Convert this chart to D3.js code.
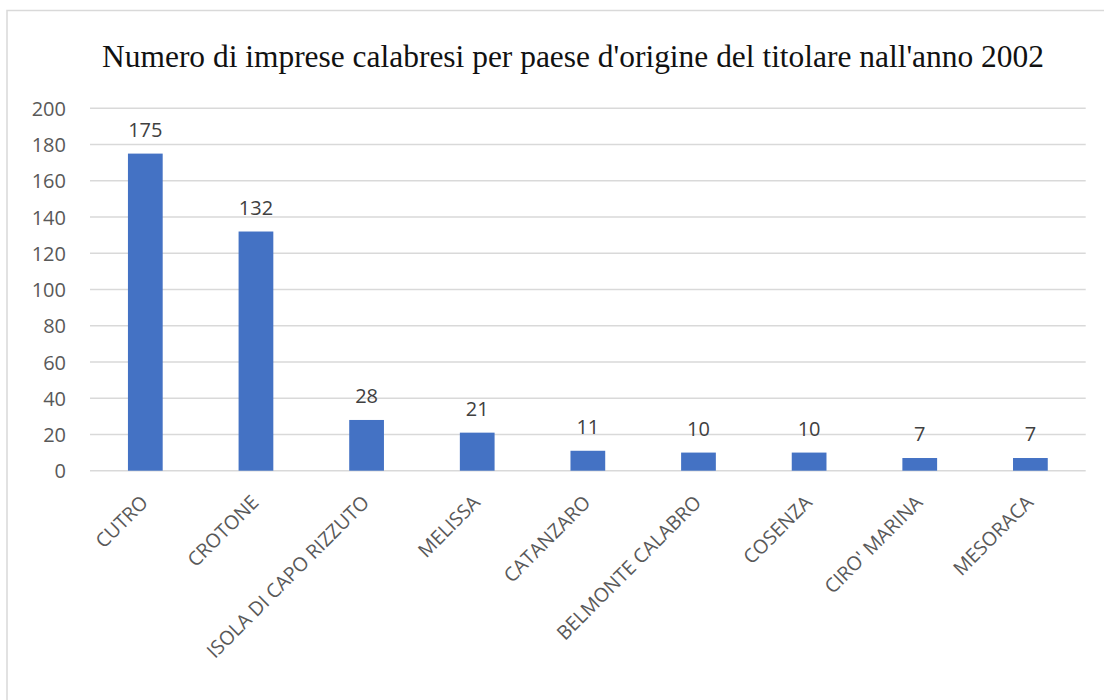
<!DOCTYPE html>
<html>
<head>
<meta charset="utf-8">
<script src="https://cdn.jsdelivr.net/npm/d3@7"></script>
<style>
  body { margin: 0; background: #fff; }
  svg text { font-family: "Open Sans", sans-serif; }
</style>
</head>
<body>
<div id="chart"></div>
<script>
// data
const comuni = ['CUTRO', 'CROTONE', 'ISOLA DI CAPO RIZZUTO', 'MELISSA', 'CATANZARO',
    'BELMONTE CALABRO', 'COSENZA', "CIRO' MARINA", 'MESORACA']
const imprese = [175, 132, 28, 21, 11, 10, 10, 7, 7]
const yTicks = [0, 20, 40, 60, 80, 100, 120, 140, 160, 180, 200]
const titolo = "Numero di imprese calabresi per paese d'origine del titolare nall'anno 2002"

const W = 1104, H = 700
const margin = { top: 108.3, right: 18.3, bottom: 229.3, left: 90 },
    width = W - margin.left - margin.right,
    height = H - margin.top - margin.bottom

const svg = d3.select('#chart')
    .append('svg')
    .attr('width', W)
    .attr('height', H)

// chart frame
svg.append('rect')
    .attr('x', 7).attr('y', 10.5)
    .attr('width', 1140).attr('height', 720)
    .attr('fill', 'none')
    .attr('stroke', '#d9d9d9')
    .attr('stroke-width', 1.5)

// title
const title = svg.append('text')
    .attr('x', 573)
    .attr('y', 67)
    .attr('text-anchor', 'middle')
    .style('font-family', '"Liberation Serif", "DejaVu Serif", serif')
    .style('font-size', '27px')
    .attr('fill', '#111')
    .text(titolo)
// fit title to the width it has in the picture
const tw = title.node().getComputedTextLength()
title.style('font-size', (27 * 942 / tw) + 'px')

const g = svg.append('g')
    .attr('transform', 'translate(' + margin.left + ',' + margin.top + ')')

const x = d3.scaleBand()
    .domain(comuni)
    .range([0, width])
    .paddingInner(0.686)
    .paddingOuter(0.343)

const y = d3.scaleLinear()
    .domain([0, 200])
    .range([height, 0])

// gridlines
g.append('g')
    .selectAll('line')
    .data(yTicks)
    .join('line')
    .attr('x1', 0).attr('x2', width)
    .attr('y1', d => y(d)).attr('y2', d => y(d))
    .attr('stroke', '#d9d9d9')
    .attr('stroke-width', 1.5)

// y axis labels
const yAxis = g.append('g')
    .call(d3.axisLeft(y).tickValues(yTicks).tickSize(0).tickPadding(24))
yAxis.select('.domain').remove()
yAxis.selectAll('text')
    .style('font-size', '20px')
    .style('font-family', '"Open Sans", sans-serif')
    .attr('dy', '0.36em')
    .attr('fill', '#595959')

// bars
g.selectAll('.bar')
    .data(comuni)
    .join('rect')
    .attr('class', 'bar')
    .attr('x', d => x(d))
    .attr('width', x.bandwidth())
    .attr('y', (d, i) => y(imprese[i]))
    .attr('height', (d, i) => height - y(imprese[i]))
    .attr('fill', '#4472c4')

// data labels
g.selectAll('.lbl')
    .data(comuni)
    .join('text')
    .attr('class', 'lbl')
    .attr('x', d => x(d) + x.bandwidth() / 2)
    .attr('y', (d, i) => y(imprese[i]) - 17)
    .attr('text-anchor', 'middle')
    .style('font-size', '20px')
    .attr('fill', '#404040')
    .text((d, i) => imprese[i])

// x axis, rotated labels
const xAxis = g.append('g')
    .attr('transform', 'translate(0,' + height + ')')
    .call(d3.axisBottom(x).tickSize(0).tickPadding(0))
xAxis.select('.domain').remove()
xAxis.selectAll('text')
    .attr('text-anchor', 'end')
    .attr('dy', null)
    .attr('transform', 'translate(4,33) rotate(-45)')
    .style('font-size', '19.5px')
    .style('font-family', '"Open Sans", sans-serif')
    .attr('fill', '#595959')
</script>
</body>
</html>
